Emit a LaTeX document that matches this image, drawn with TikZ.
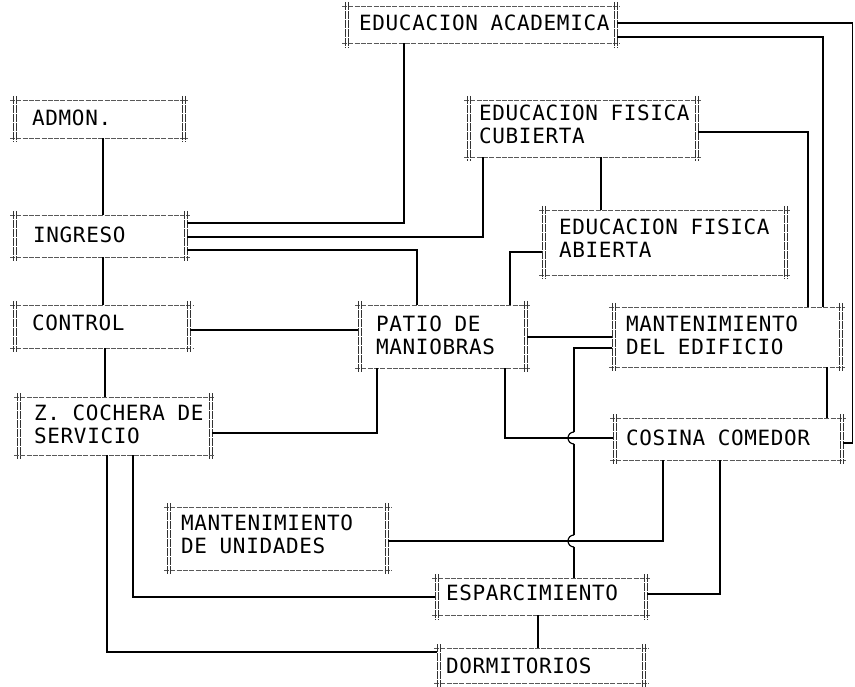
\documentclass[tikz,border=0pt]{standalone}
\usepackage{fontspec}
\newfontfamily\plotfont{DejaVu Sans Mono}[LetterSpace=3]
\newcommand\gap{\hspace*{12.6pt}}
\begin{document}
\begin{tikzpicture}[x=1pt,y=-1pt,
  box/.style={anchor=north west, inner ysep=0pt, align=left,
    font=\plotfont\fontsize{21pt}{23pt}\selectfont},
  frame/.style={black!65, line width=0.6pt, dash pattern=on 5pt off 1.3pt},
  side/.style={black!80, line width=0.7pt, dash pattern=on 8pt off 1pt},
  link/.style={line width=1.2pt, black}]
\useasboundingbox (0,0) rectangle (855,687);

% boxes
\node[box, inner xsep=14pt, text width=244pt, minimum height=37pt, text depth=4pt] (ea)    at (345,6)   {\mbox{EDUCACION\gap ACADEMICA}};
\node[box, inner xsep=19pt, text width=134pt, minimum height=38pt, text depth=2pt] (admon) at (13,100)  {\mbox{ADMON.}};
\node[box, inner xsep=20pt, text width=134pt, minimum height=42pt, text depth=2pt] (ing)   at (13,215)  {\mbox{INGRESO}};
\node[box, inner xsep=19pt, text width=139pt, minimum height=43pt, text depth=8pt] (ctrl)  at (13,305)  {\mbox{CONTROL}};
\node[box, inner xsep=17pt, text width=161pt, minimum height=58pt, text depth=27pt] (zc)   at (17,397)  {\mbox{Z.\gap COCHERA\gap DE}\\\mbox{SERVICIO}};
\node[box, inner xsep=12pt, text width=207pt, minimum height=57pt, text depth=32pt] (efc)  at (467,100) {\mbox{EDUCACION\gap FISICA}\\\mbox{CUBIERTA}};
\node[box, inner xsep=17pt, text width=211pt, minimum height=65pt, text depth=31pt] (efa)  at (542,210) {\mbox{EDUCACION\gap FISICA}\\\mbox{ABIERTA}};
\node[box, inner xsep=18pt, text width=133pt, minimum height=63pt, text depth=25pt] (patio) at (358,305) {\mbox{PATIO\gap DE}\\\mbox{MANIOBRAS}};
\node[box, inner xsep=14pt, text width=202pt, minimum height=60pt, text depth=26pt] (mde)  at (612,307) {\mbox{MANTENIMIENTO}\\\mbox{DEL\gap EDIFICIO}};
\node[box, inner xsep=13pt, text width=204pt, minimum height=42pt, text depth=2pt] (cos)   at (613,418) {\mbox{COSINA\gap COMEDOR}};
\node[box, inner xsep=14pt, text width=193pt, minimum height=63pt, text depth=32pt] (mdu)  at (167,507) {\mbox{MANTENIMIENTO}\\\mbox{DE\gap UNIDADES}};
\node[box, inner xsep=11pt, text width=190pt, minimum height=37pt, text depth=7pt] (esp)   at (435,578) {\mbox{ESPARCIMIENTO}};
\node[box, inner xsep=9pt,  text width=190pt, minimum height=35pt, text depth=0pt] (dorm)  at (437,648) {\mbox{DORMITORIOS}};

% box frames
\foreach \n in {ea,admon,ing,ctrl,zc,efc,efa,patio,mde,cos,mdu,esp,dorm}{
  \draw[frame] ([xshift=-3pt]\n.north west) -- ([xshift=3pt]\n.north east);
  \draw[frame] ([xshift=-3pt]\n.south west) -- ([xshift=3pt]\n.south east);
  \draw[side] ([yshift=4pt]\n.north west) -- ([yshift=-4pt]\n.south west);
  \draw[side] ([xshift=3pt,yshift=4pt]\n.north west) -- ([xshift=3pt,yshift=-4pt]\n.south west);
  \draw[side] ([yshift=4pt]\n.north east) -- ([yshift=-4pt]\n.south east);
  \draw[side] ([xshift=-3pt,yshift=4pt]\n.north east) -- ([xshift=-3pt,yshift=-4pt]\n.south east);
}

% connectors
\draw[link] (admon.south -| 103,0) -- (ing.north -| 103,0);
\draw[link] (ing.south -| 103,0) -- (ctrl.north -| 103,0);
\draw[link] (ctrl.south -| 105,0) -- (zc.north -| 105,0);
\draw[link] (ea.south -| 404,0) |- (ing.east |- 0,223);
\draw[link] (efc.south -| 483,0) |- (ing.east |- 0,237);
\draw[link] (ing.east |- 0,250) -| (patio.north -| 417,0);
\draw[link] (ctrl.east |- 0,330) -- (patio.west |- 0,330);
\draw[link] (zc.east |- 0,433) -| (patio.south -| 377,0);
\draw[link] (efc.south -| 601,0) -- (efa.north -| 601,0);
\draw[link] (efa.west |- 0,252) -| (patio.north -| 510,0);
\draw[link] (efc.east |- 0,132) -| (mde.north -| 808,0);
\draw[link] (ea.east |- 0,37) -| (mde.north -| 823,0);
\draw[link] (ea.east |- 0,23) -| ([xshift=9pt]cos.east |- 0,443) -- (cos.east |- 0,443);
\draw[link] (mde.south -| 827,0) -- (cos.north -| 827,0);
\draw[link] (patio.east |- 0,337) -- (mde.west |- 0,337);
\draw[link] (patio.south -| 505,0) |- (cos.west |- 0,438);
\draw[link] (mdu.east |- 0,541) -| (cos.south -| 663,0);
% MANTENIMIENTO DEL EDIFICIO -> ESPARCIMIENTO, hopping over two lines
\coordinate (h1) at (574,432);
\coordinate (h2) at (574,535);
\draw[link] (mde.west |- 0,348) -| (h1);
\draw[link] (h1) arc[start angle=90, end angle=270, radius=6pt];
\draw[link] ([yshift=-12pt]h1) -- (h2);
\draw[link] (h2) arc[start angle=90, end angle=270, radius=6pt];
\draw[link] ([yshift=-12pt]h2) -- (esp.north -| h2);
\draw[link] (cos.south -| 720,0) |- (esp.east |- 0,594);
\draw[link] (esp.south -| 538,0) -- (dorm.north -| 538,0);
\draw[link] (zc.south -| 133,0) |- (esp.west |- 0,597);
\draw[link] (zc.south -| 107,0) |- (dorm.west |- 0,652);
\end{tikzpicture}
\end{document}
